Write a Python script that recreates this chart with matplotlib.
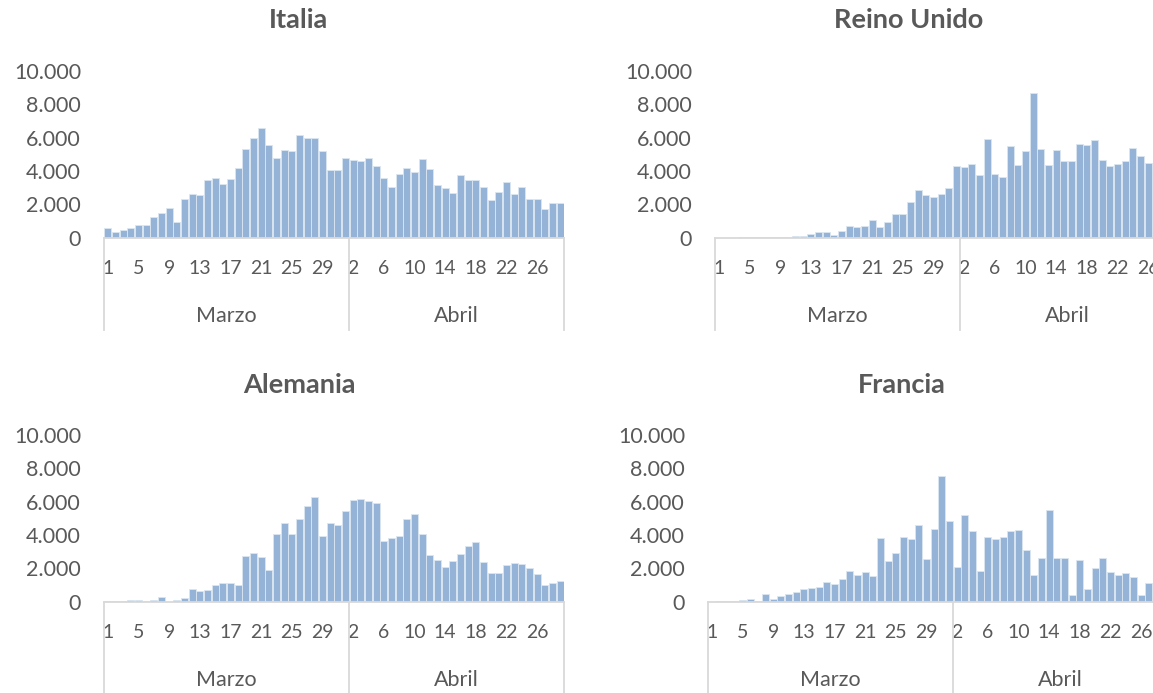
import matplotlib
matplotlib.use("Agg")
import matplotlib.pyplot as plt
import numpy as np
from matplotlib.ticker import FuncFormatter
from matplotlib.transforms import blended_transform_factory

# ---------------- data (1 Mar .. 29 Apr) ----------------
day_labels = [str(d) for d in range(1, 32)] + [str(d) for d in range(1, 30)]
month_names = ["Marzo", "Abril"]
month_bar_counts = [32, 28]   # grouping as drawn in the reference

italia = [560, 330, 450, 570, 770, 770, 1230, 1480, 1790, 960,
          2300, 2640, 2540, 3490, 3590, 3230, 3520, 4210, 5330, 5990,
          6560, 5560, 4790, 5260, 5210, 6160, 5970, 5980, 5220, 4050, 4050,
          4780, 4670, 4580, 4810, 4320, 3610, 3050, 3840, 4200, 3950,
          4710, 4100, 3150, 2970, 2660, 3790, 3480, 3480, 3050, 2250,
          2720, 3360, 2640, 3030, 2350, 2320, 1730, 2080, 2080]

reino_unido = [10, 5, 10, 30, 30, 50, 40, 70, 50, 60,
               90, 130, 210, 340, 340, 150, 410, 680, 640, 710,
               1040, 670, 970, 1430, 1450, 2130, 2890, 2550, 2430, 2620, 3010,
               4320, 4250, 4440, 3740, 5920, 3800, 3640, 5500, 4350, 5200,
               8720, 5300, 4350, 5260, 4600, 4620, 5600, 5540, 5860, 4680,
               4310, 4440, 4580, 5380, 4920, 4460, 4300, 4000, 4080]

alemania = [20, 20, 30, 100, 120, 40, 100, 260, 10, 100,
            200, 760, 640, 680, 1000, 1120, 1120, 1000, 2760, 2920,
            2680, 1920, 4040, 4740, 4080, 4940, 5760, 6280, 3940, 4720, 4600,
            5440, 6120, 6140, 6060, 5900, 3640, 3800, 3960, 4940, 5280,
            4080, 2780, 2480, 2060, 2440, 2840, 3320, 3560, 2400, 1720,
            1740, 2200, 2300, 2280, 2000, 1680, 980, 1100, 1260]

francia = [10, 20, 20, 40, 100, 160, 40, 440, 160, 320,
           460, 560, 740, 800, 880, 1160, 1060, 1360, 1820, 1580,
           1800, 1520, 3800, 2420, 2900, 3880, 3780, 4580, 2560, 4340, 7560,
           4840, 2080, 5200, 4240, 1840, 3880, 3760, 3860, 4260, 4320,
           3080, 1580, 2640, 5480, 2600, 2600, 380, 2520, 740, 2020,
           2620, 1780, 1600, 1700, 1500, 420, 1140, 1000, 1500]

yticks = [0, 2000, 4000, 6000, 8000, 10000]

# ---------------- style ----------------
TXT = "#595959"
GRID = "#D9D9D9"
BAR = "#95B3D7"
FONT = ["Lato", "DejaVu Sans"]
plt.rcParams["font.family"] = FONT

W, H = 1153, 693
fig = plt.figure(figsize=(W / 100, H / 100), dpi=100)

PX = 72 / 100  # points per pixel

panels = [
    # title, data, left px, axis-bottom px, title centre (x, y)
    ("Italia", italia, 104, 237.7, (299, 20)),
    ("Reino Unido", reino_unido, 715, 237.7, (909, 20)),
    ("Alemania", alemania, 104, 601.7, (299, 385)),
    ("Francia", francia, 708, 601.7, (902, 385)),
]

AX_W = 460
AX_H = 166.5

for title, vals, left, y0, (tx, ty) in panels:
    ax = fig.add_axes([left / W, 1 - y0 / H, AX_W / W, AX_H / H])
    x = np.arange(len(vals))
    ax.bar(x, vals, width=0.94, color=BAR, edgecolor="#DCE6F2", linewidth=0.6, zorder=2)
    ax.set_xlim(-0.5, len(vals) - 0.5)
    ax.set_ylim(0, 10000)
    ax.set_yticks(yticks)
    ax.yaxis.set_major_formatter(FuncFormatter(lambda v, p: f"{int(v):,}".replace(",", ".")))
    ax.tick_params(axis="y", length=0, pad=23 * PX, labelsize=15.5, labelcolor=TXT)
    ax.set_xticks([])
    for s in ("top", "right", "left"):
        ax.spines[s].set_visible(False)
    ax.spines["bottom"].set_color(GRID)
    ax.spines["bottom"].set_linewidth(1.3)
    ax.spines["bottom"].set_zorder(3)

    tr = blended_transform_factory(ax.transData, ax.transAxes)
    # day labels every 4th bar
    for i in range(0, len(vals), 4):
        ax.annotate(day_labels[i], xy=(i, 0), xycoords=tr, xytext=(0, -31 * PX),
                    textcoords="offset points", ha="center", va="center",
                    fontsize=14, color=TXT, annotation_clip=False)
    # month groups
    start = -0.5
    bounds = [start]
    for name, n in zip(month_names, month_bar_counts):
        end = start + n
        ax.annotate(name, xy=((start + end) / 2, 0), xycoords=tr, xytext=(0, -78 * PX),
                    textcoords="offset points", ha="center", va="center",
                    fontsize=15.5, color=TXT, annotation_clip=False)
        bounds.append(end)
        start = end
    for b in bounds:
        ax.plot([b, b], [0, -0.555], transform=tr, color=GRID, lw=1.3, clip_on=False, zorder=3)

    fig.text(tx / W, 1 - ty / H, title, ha="center", va="center", fontsize=19.5,
             fontweight="bold", color=TXT)

fig.savefig("out.png", dpi=100)
